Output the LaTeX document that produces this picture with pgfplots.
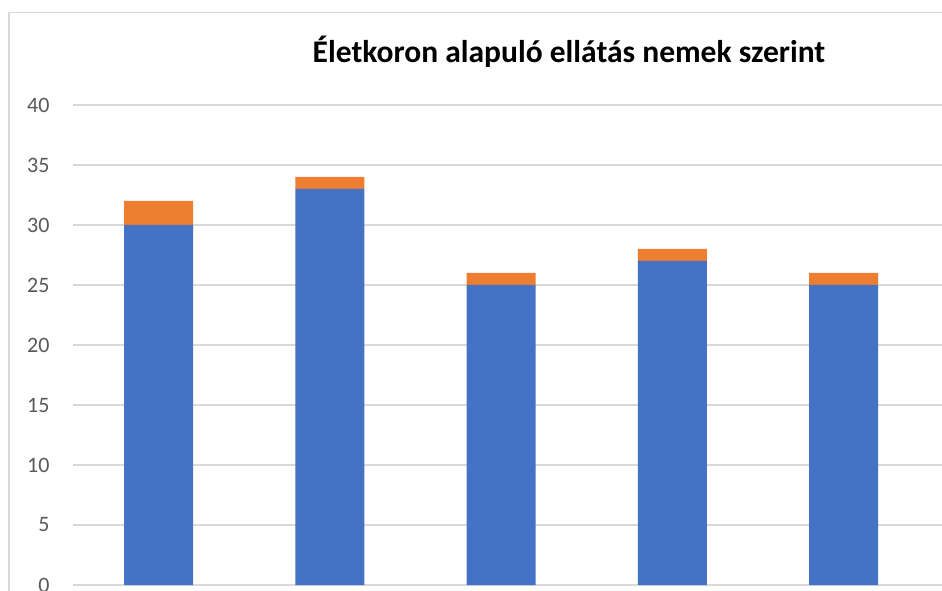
\documentclass[border=0pt]{standalone}
\usepackage{fontspec}
\setmainfont{Carlito}
\usepackage{pgfplots}
\pgfplotsset{compat=1.18}
\definecolor{eblue}{HTML}{4472C4}
\definecolor{eorange}{HTML}{ED7D31}
\definecolor{gridc}{HTML}{D9D9D9}
\definecolor{ticktext}{HTML}{595959}
\begin{document}
\begin{tikzpicture}
\useasboundingbox (0,0) rectangle (942bp,591bp);
\clip (0,0) rectangle (942bp,591bp);
\fill[white] (0,0) rectangle (942bp,591bp);
\draw[gridc, line width=1.3bp] (9bp,-20bp) rectangle (960bp,578.3bp);
\node[anchor=base, font=\fontsize{31.5bp}{36bp}\selectfont\bfseries] at (569bp,528bp) {Életkoron alapuló ellátás nemek szerint};
\begin{axis}[
  at={(73bp,6bp)}, anchor=south west,
  width=873.4bp, height=480bp, scale only axis,
  xmin=-0.5, xmax=4.6, ymin=0, ymax=40,
  ybar stacked, bar width=69bp,
  axis line style={draw=none},
  ytick={0,5,...,40}, xtick=\empty,
  major tick length=0pt,
  ymajorgrids, grid style={gridc, line width=1.3bp},
  /pgf/number format/assume math mode=true,
  yticklabel style={font=\fontsize{22bp}{26bp}\selectfont, text=ticktext, xshift=-20bp},
  clip=false,
]
\addplot[fill=eblue, draw=none] coordinates {(0,30) (1,33) (2,25) (3,27) (4,25)};
\addplot[fill=eorange, draw=none] coordinates {(0,2) (1,1) (2,1) (3,1) (4,1)};
\end{axis}
\end{tikzpicture}
\end{document}
